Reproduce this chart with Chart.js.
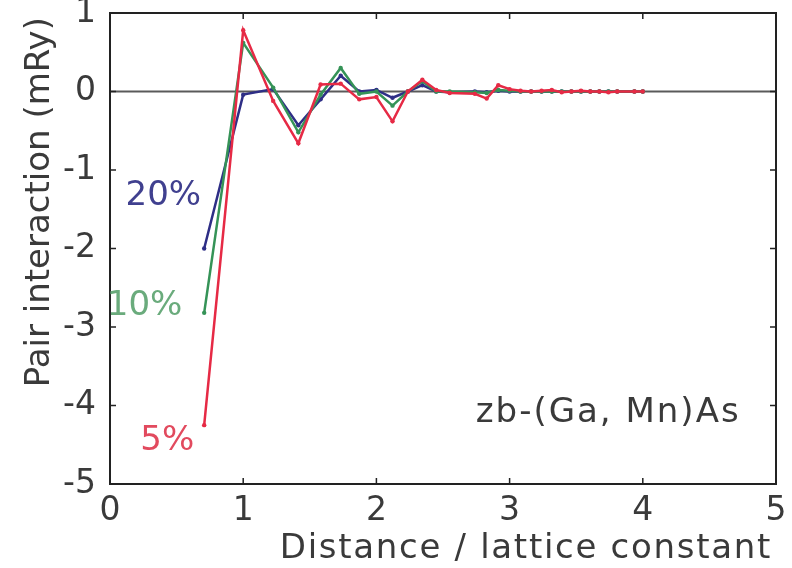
<!DOCTYPE html>
<html>
<head>
<meta charset="utf-8">
<script src="https://cdn.jsdelivr.net/npm/chart.js@4.4.1/dist/chart.umd.min.js"></script>
<style>
  html, body { margin: 0; padding: 0; background: #ffffff; }
  #wrap { width: 792px; height: 568px; position: relative; }
</style>
</head>
<body>
<div id="wrap"><canvas id="c" width="792" height="568"></canvas></div>
<script>
// Distances (lattice-constant units) of the neighbour shells
const distances = [0.707, 1.0, 1.225, 1.414, 1.581, 1.732, 1.871, 2.0, 2.121, 2.236, 2.345, 2.449, 2.550,
  2.739, 2.828, 2.915, 3.0, 3.082, 3.162, 3.240, 3.317, 3.391, 3.464, 3.536, 3.606, 3.674, 3.742, 3.808, 3.937, 4.0];

// Pair interactions (mRy)
const series5 = [-4.25, 0.78, -0.12, -0.66, 0.09, 0.10, -0.10, -0.07, -0.38, 0.00, 0.15, 0.02, -0.02,
  -0.03, -0.09, 0.08, 0.03, 0.01, 0.00, 0.01, 0.02, -0.01, 0.00, 0.01, 0.00, 0.00, -0.01, 0.00, 0.00, 0.00];
const series10 = [-2.82, 0.62, 0.05, -0.52, -0.04, 0.30, -0.03, 0.00, -0.18, 0.00, 0.13, 0.00, 0.00,
  -0.01, -0.02, 0.02, 0.01, 0.00, 0.00, 0.00, 0.00, 0.00, 0.00, 0.00, 0.00, 0.00, 0.00, 0.00, 0.00, 0.00];
const series20 = [-2.00, -0.04, 0.03, -0.43, -0.10, 0.20, 0.00, 0.02, -0.08, 0.00, 0.08, 0.00, -0.01,
  0.00, -0.01, 0.01, 0.00, 0.00, 0.00, 0.00, 0.00, 0.00, 0.00, 0.00, 0.00, 0.00, 0.00, 0.00, 0.00, 0.00];

const seriesNames = ['5%', '10%', '20%'];
const xTicks = [0, 1, 2, 3, 4, 5];
const yTicks = [1, 0, -1, -2, -3, -4, -5];
const xTitle = 'Distance / lattice constant';
const yTitle = 'Pair interaction (mRy)';
const compoundLabel = 'zb-(Ga, Mn)As';

const FONT = '"DejaVu Sans", sans-serif';
const TEXT = '#3a3a3a';
const colors = { '5%': '#e62a45', '10%': '#359357', '20%': '#2e2e86' };
const labelColors = { '5%': '#e24a5e', '10%': '#6aab7c', '20%': '#40408f' };
// where the series labels sit (data coordinates)
const labelAnchors = { '20%': [0.40, -1.33], '10%': [0.26, -2.73], '5%': [0.43, -4.46] };

function pts(arr) { return distances.map((d, i) => ({ x: d, y: arr[i] })); }

const ds = (name, arr) => ({
  label: name,
  data: pts(arr),
  borderColor: colors[name],
  backgroundColor: colors[name],
  borderWidth: 2.5,
  pointRadius: 2.2,
  pointHoverRadius: 2.2,
  pointBorderWidth: 0,
  tension: 0
});

const framePlugin = {
  id: 'frame',
  beforeDatasetsDraw(chart) {
    const { ctx, chartArea: a, scales: { y } } = chart;
    ctx.save();
    const y0 = y.getPixelForValue(0);
    ctx.strokeStyle = '#5a5a5a';
    ctx.lineWidth = 2;
    ctx.beginPath();
    ctx.moveTo(a.left, y0);
    ctx.lineTo(a.right, y0);
    ctx.stroke();
    ctx.restore();
  },
  afterDatasetsDraw(chart) {
    const { ctx, chartArea: a, scales: { x, y } } = chart;
    ctx.save();
    ctx.strokeStyle = '#222222';
    ctx.lineWidth = 2;
    ctx.strokeRect(a.left, a.top, a.right - a.left, a.bottom - a.top);
    ctx.lineWidth = 1.5;
    const tl = 6;
    ctx.beginPath();
    xTicks.forEach(v => {
      const px = x.getPixelForValue(v);
      ctx.moveTo(px, a.bottom); ctx.lineTo(px, a.bottom - tl);
      ctx.moveTo(px, a.top); ctx.lineTo(px, a.top + tl);
    });
    yTicks.forEach(v => {
      const py = y.getPixelForValue(v);
      ctx.moveTo(a.left, py); ctx.lineTo(a.left + tl, py);
      ctx.moveTo(a.right, py); ctx.lineTo(a.right - tl, py);
    });
    ctx.stroke();

    // series labels
    ctx.font = '34px ' + FONT;
    ctx.textAlign = 'center';
    ctx.textBaseline = 'middle';
    seriesNames.forEach(n => {
      const [lx, ly] = labelAnchors[n];
      ctx.fillStyle = labelColors[n];
      ctx.fillText(n, x.getPixelForValue(lx), y.getPixelForValue(ly));
    });
    ctx.fillStyle = TEXT;
    ctx.letterSpacing = '2px';
    ctx.fillText(compoundLabel, x.getPixelForValue(3.74), y.getPixelForValue(-4.1));

    // axis titles
    ctx.fillStyle = TEXT;
    ctx.textAlign = 'right';
    ctx.letterSpacing = '1.7px';
    ctx.fillText(xTitle, a.right - 4, 549);
    ctx.letterSpacing = '0px';
    ctx.save();
    ctx.translate(40, a.top + 4);
    ctx.rotate(-Math.PI / 2);
    ctx.textAlign = 'right';
    ctx.fillText(yTitle, 0, 0);
    ctx.restore();
    ctx.restore();
  }
};

new Chart(document.getElementById('c'), {
  type: 'line',
  data: { datasets: [ds('5%', series5), ds('10%', series10), ds('20%', series20)] },
  options: {
    responsive: false,
    animation: false,
    layout: { padding: { left: 0, right: 16, top: 13, bottom: 0 } },
    plugins: { legend: { display: false }, tooltip: { enabled: false } },
    scales: {
      x: {
        type: 'linear', min: 0, max: 5,
        afterFit(s) { s.height = 84; s.paddingLeft = 0; s.paddingRight = 0; },
        afterBuildTicks(s) { s.ticks = xTicks.map(v => ({ value: v })); },
        grid: { display: false, drawTicks: false },
        border: { display: false },
        ticks: { color: TEXT, font: { family: FONT, size: 33 }, padding: 8, maxRotation: 0 }
      },
      y: {
        type: 'linear', min: -5, max: 1,
        afterFit(s) { s.width = 110; s.paddingTop = 0; s.paddingBottom = 0; },
        afterBuildTicks(s) { s.ticks = yTicks.map(v => ({ value: v })); },
        grid: { display: false, drawTicks: false },
        border: { display: false },
        ticks: { color: TEXT, font: { family: FONT, size: 33 }, padding: 14 }
      }
    }
  },
  plugins: [framePlugin]
});
</script>
</body>
</html>
